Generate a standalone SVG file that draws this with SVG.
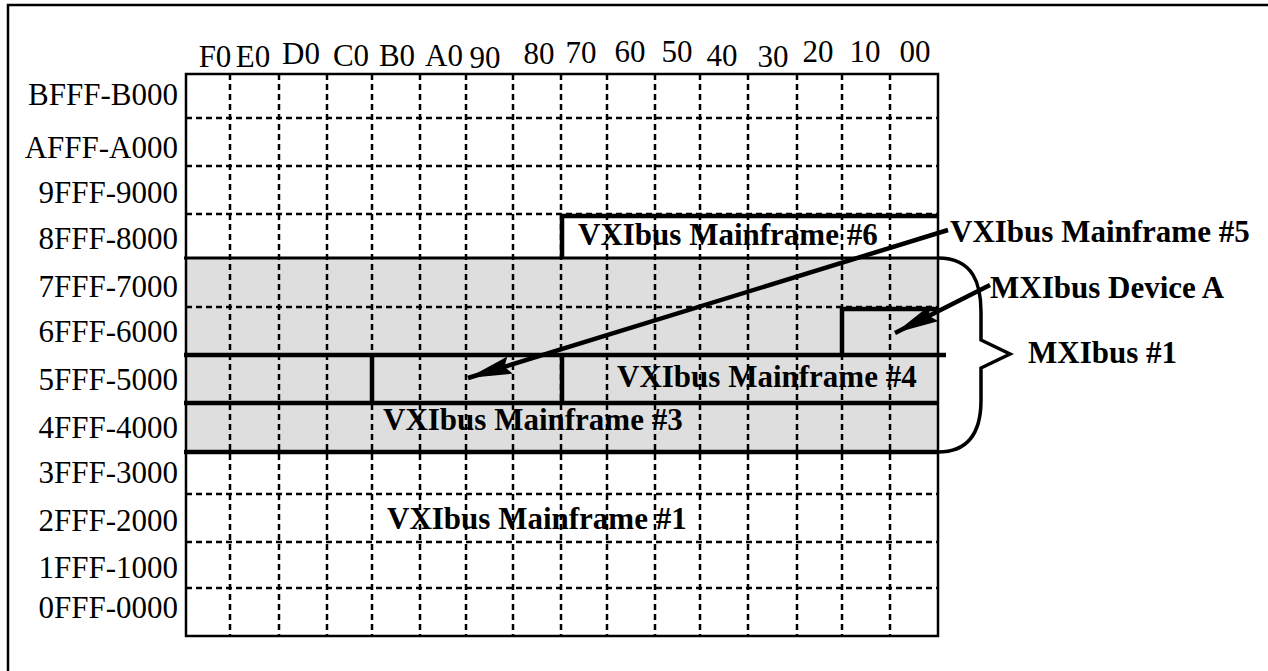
<svg xmlns="http://www.w3.org/2000/svg" width="1268" height="671" viewBox="0 0 1268 671">
<style>
.lbl{font-family:"Liberation Serif","Times New Roman",serif;font-size:31px;fill:#000}
.row{text-anchor:end}
.col{text-anchor:middle}
.bold{font-family:"Liberation Serif","Times New Roman",serif;font-size:31px;font-weight:bold;fill:#000}
.grid{stroke:#000;stroke-width:2.5;stroke-dasharray:6 4;fill:none}
.thick{stroke:#000;stroke-width:4.5;fill:none}
.shade{fill:#dedede;stroke:#8a8a8a;stroke-width:1;stroke-dasharray:4 3}
.conn{stroke:#000;stroke-width:4.5;fill:none}
</style>
<defs>
<marker id="ah" markerUnits="userSpaceOnUse" markerWidth="46" markerHeight="20" refX="44" refY="10" orient="auto">
<path d="M0,1 L44,10 L0,19 L6,10 Z" fill="#000"/>
</marker>
</defs>
<rect x="8" y="5" width="1300" height="700" fill="#fff" stroke="#000" stroke-width="2.5"/>

<g id="mxibus1-region">
<rect class="shade" x="186" y="258" width="752" height="97"/>
<rect class="shade" x="186" y="355" width="752" height="48"/>
<rect class="shade" x="186" y="403" width="752" height="49"/>
</g>

<g id="grid">
<path class="grid" d="M230,74V636M279,74V636M327,74V636M372,74V636M420,74V636M466,74V636M513,74V636M561,74V636M607,74V636M655,74V636M700,74V636M748,74V636M797,74V636M842,74V636M890,74V636"/>
<path class="grid" d="M186,118H938M186,166H938M186,214H938M186,307H938M186,494H938M186,542H938M186,588H938"/>
<rect x="186" y="74" width="752" height="562" fill="none" stroke="#000" stroke-width="2.5"/>
</g>

<g id="column-labels" class="lbl col">
<text x="215" y="67">F0</text>
<text x="253" y="67">E0</text>
<text x="301" y="64">D0</text>
<text x="351" y="66">C0</text>
<text x="397" y="66">B0</text>
<text x="444" y="66">A0</text>
<text x="485" y="68">90</text>
<text x="539" y="64">80</text>
<text x="581" y="63">70</text>
<text x="630" y="62">60</text>
<text x="677" y="62">50</text>
<text x="722" y="66">40</text>
<text x="773" y="67">30</text>
<text x="818" y="62">20</text>
<text x="865" y="62">10</text>
<text x="915" y="62">00</text>
</g>

<g id="row-labels" class="lbl row">
<text x="178" y="105">BFFF-B000</text>
<text x="178" y="158">AFFF-A000</text>
<text x="178" y="203">9FFF-9000</text>
<text x="178" y="249">8FFF-8000</text>
<text x="178" y="297">7FFF-7000</text>
<text x="178" y="342">6FFF-6000</text>
<text x="178" y="390">5FFF-5000</text>
<text x="178" y="438">4FFF-4000</text>
<text x="178" y="483">3FFF-3000</text>
<text x="178" y="531">2FFF-2000</text>
<text x="178" y="578">1FFF-1000</text>
<text x="178" y="618">0FFF-0000</text>
</g>

<g id="mainframe6">
<path class="thick" d="M562,258V216H938"/>
<text class="bold" x="578" y="245">VXIbus Mainframe #6</text>
</g>

<g id="mxibus-boundaries">
<path class="thick" d="M184,258H938" style="stroke-width:3"/>
<path class="thick" d="M184,355H946"/>
<path class="thick" d="M184,403H938"/>
<path class="thick" d="M184,452H938"/>
</g>

<g id="device-a-box">
<path class="thick" d="M842,355V309H938"/>
</g>

<g id="mainframe5-box">
<path class="thick" d="M372,355V403M562,355V403"/>
</g>

<g id="mainframe4">
<text class="bold" x="617" y="387">VXIbus Mainframe #4</text>
</g>

<g id="mainframe3">
<text class="bold" x="383" y="430">VXIbus Mainframe #3</text>
</g>

<g id="mainframe1">
<text class="bold" x="387" y="529">VXIbus Mainframe #1</text>
</g>

<g id="mainframe5-label">
<text class="bold" x="950" y="242">VXIbus Mainframe #5</text>
</g>

<g id="device-a-label">
<text class="bold" x="990" y="298">MXIbus Device A</text>
</g>

<g id="mxibus1-label">
<text class="bold" x="1028" y="363">MXIbus #1</text>
</g>

<g id="connectors">
<line class="conn" x1="948" y1="230" x2="468" y2="378" marker-end="url(#ah)"/>
<line class="conn" x1="990" y1="285" x2="895" y2="333" marker-end="url(#ah)"/>
<path class="conn" style="stroke-width:3.5" d="M938,258 C974,258 981,285 981,312 L981,340 L1010,354 L981,368 L981,400 C981,430 970,452 938,452"/>
</g>
</svg>
